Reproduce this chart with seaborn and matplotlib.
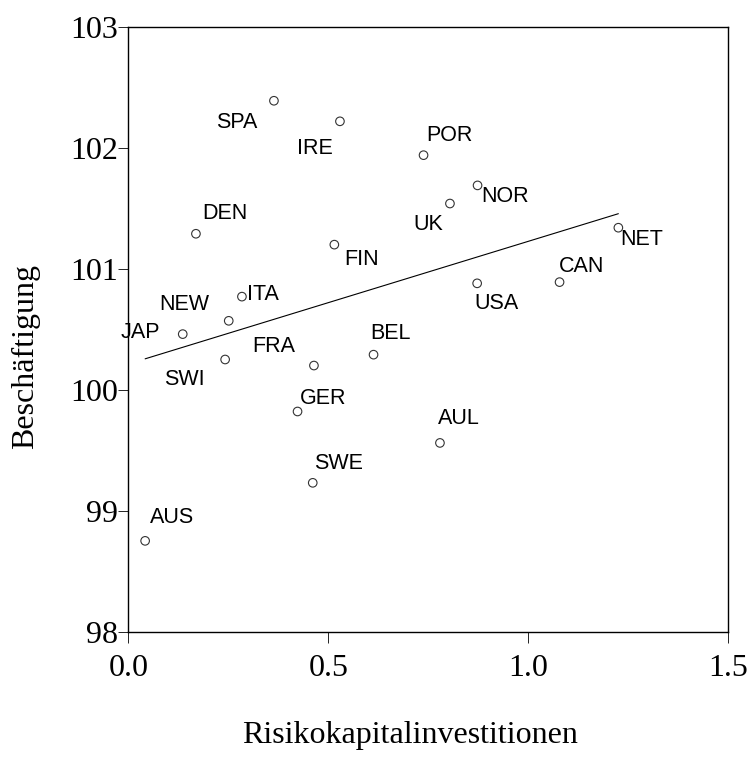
import matplotlib
matplotlib.use("Agg")
import matplotlib.pyplot as plt
import seaborn as sns
import numpy as np

countries = ["AUS", "AUL", "BEL", "CAN", "DEN", "FIN", "FRA", "GER", "IRE", "ITA",
             "JAP", "NET", "NEW", "NOR", "POR", "SPA", "SWE", "SWI", "UK", "USA"]
risikokapital = [0.042, 0.779, 0.613, 1.078, 0.169, 0.515, 0.464, 0.423, 0.529, 0.284,
                 0.136, 1.225, 0.251, 0.873, 0.738, 0.364, 0.461, 0.242, 0.804, 0.872]
beschaeftigung = [98.75, 99.56, 100.29, 100.89, 101.29, 101.20, 100.20, 99.82, 102.22, 100.77,
                  100.46, 101.34, 100.57, 101.69, 101.94, 102.39, 99.23, 100.25, 101.54, 100.88]
x_ticks = [0.0, 0.5, 1.0, 1.5]
y_ticks = [98, 99, 100, 101, 102, 103]

# label placement next to each point: (dx px, dy px downwards, ha)
label_pos = {
    "SPA": (-17, 20, "right"), "IRE": (-7, 25, "right"), "POR": (3, -22, "left"),
    "DEN": (6, -22, "left"), "FIN": (10, 13, "left"), "ITA": (5, -4, "left"),
    "NEW": (-19, -18, "right"), "NOR": (4, 9, "left"), "UK": (-7, 19, "right"),
    "NET": (2, 10, "left"), "CAN": (-1, -18, "left"), "USA": (-3, 18, "left"),
    "JAP": (-23, -4, "right"), "SWI": (-20, 18, "right"), "FRA": (-19, -21, "right"),
    "BEL": (-3, -23, "left"), "GER": (2, -15, "left"), "SWE": (1, -21, "left"),
    "AUS": (5, -25, "left"), "AUL": (-2, -26, "left"),
}

sns.set_style("ticks")
serif = ["Liberation Serif", "DejaVu Serif"]
sans = ["Liberation Sans", "DejaVu Sans"]

fig = plt.figure(figsize=(7.54, 7.63), dpi=100)
ax = fig.add_axes([0.1702, 0.1723, 0.7958, 0.7923])

sns.regplot(x=risikokapital, y=beschaeftigung, ax=ax, ci=None, truncate=True,
            scatter_kws=dict(s=38, facecolors="none", edgecolors="black", linewidths=0.8),
            line_kws=dict(color="black", lw=0.8))

for name, xv, yv in zip(countries, risikokapital, beschaeftigung):
    dx, dy, ha = label_pos[name]
    ax.annotate(name, (xv, yv), xytext=(dx, -(dy + 2)), textcoords="offset pixels",
                ha=ha, va="center", fontsize=15.5, family=sans, color="black")

ax.set_xlim(0, 1.5)
ax.set_ylim(98, 103)
ax.set_xticks(x_ticks)
ax.set_yticks(y_ticks)
ax.set_xticklabels([f"{t:.1f}" for t in x_ticks])
ax.set_yticklabels([str(t) for t in y_ticks])
for lab in ax.get_xticklabels() + ax.get_yticklabels():
    lab.set_family(serif)
    lab.set_fontsize(23)
    lab.set_color("black")

ax.tick_params(axis="x", bottom=True, direction="out", length=8, width=0.6, pad=8.5, color="black")
ax.tick_params(axis="y", left=True, direction="out", length=7, width=0.6, pad=0.5, color="black")
for sp in ax.spines.values():
    sp.set_visible(True)
    sp.set_color("black")
    sp.set_linewidth(1.0)

ax.set_xlabel("Risikokapitalinvestitionen", family=serif, fontsize=23, color="black")
ax.xaxis.label.set_va("baseline")
ax.xaxis.set_label_coords(0.470, -0.1845)
ax.set_ylabel("Beschäftigung", family=serif, fontsize=23, color="black")
ax.yaxis.label.set_va("baseline")
ax.yaxis.set_label_coords(-0.159, 0.455)

fig.savefig("out.png", dpi=100)
